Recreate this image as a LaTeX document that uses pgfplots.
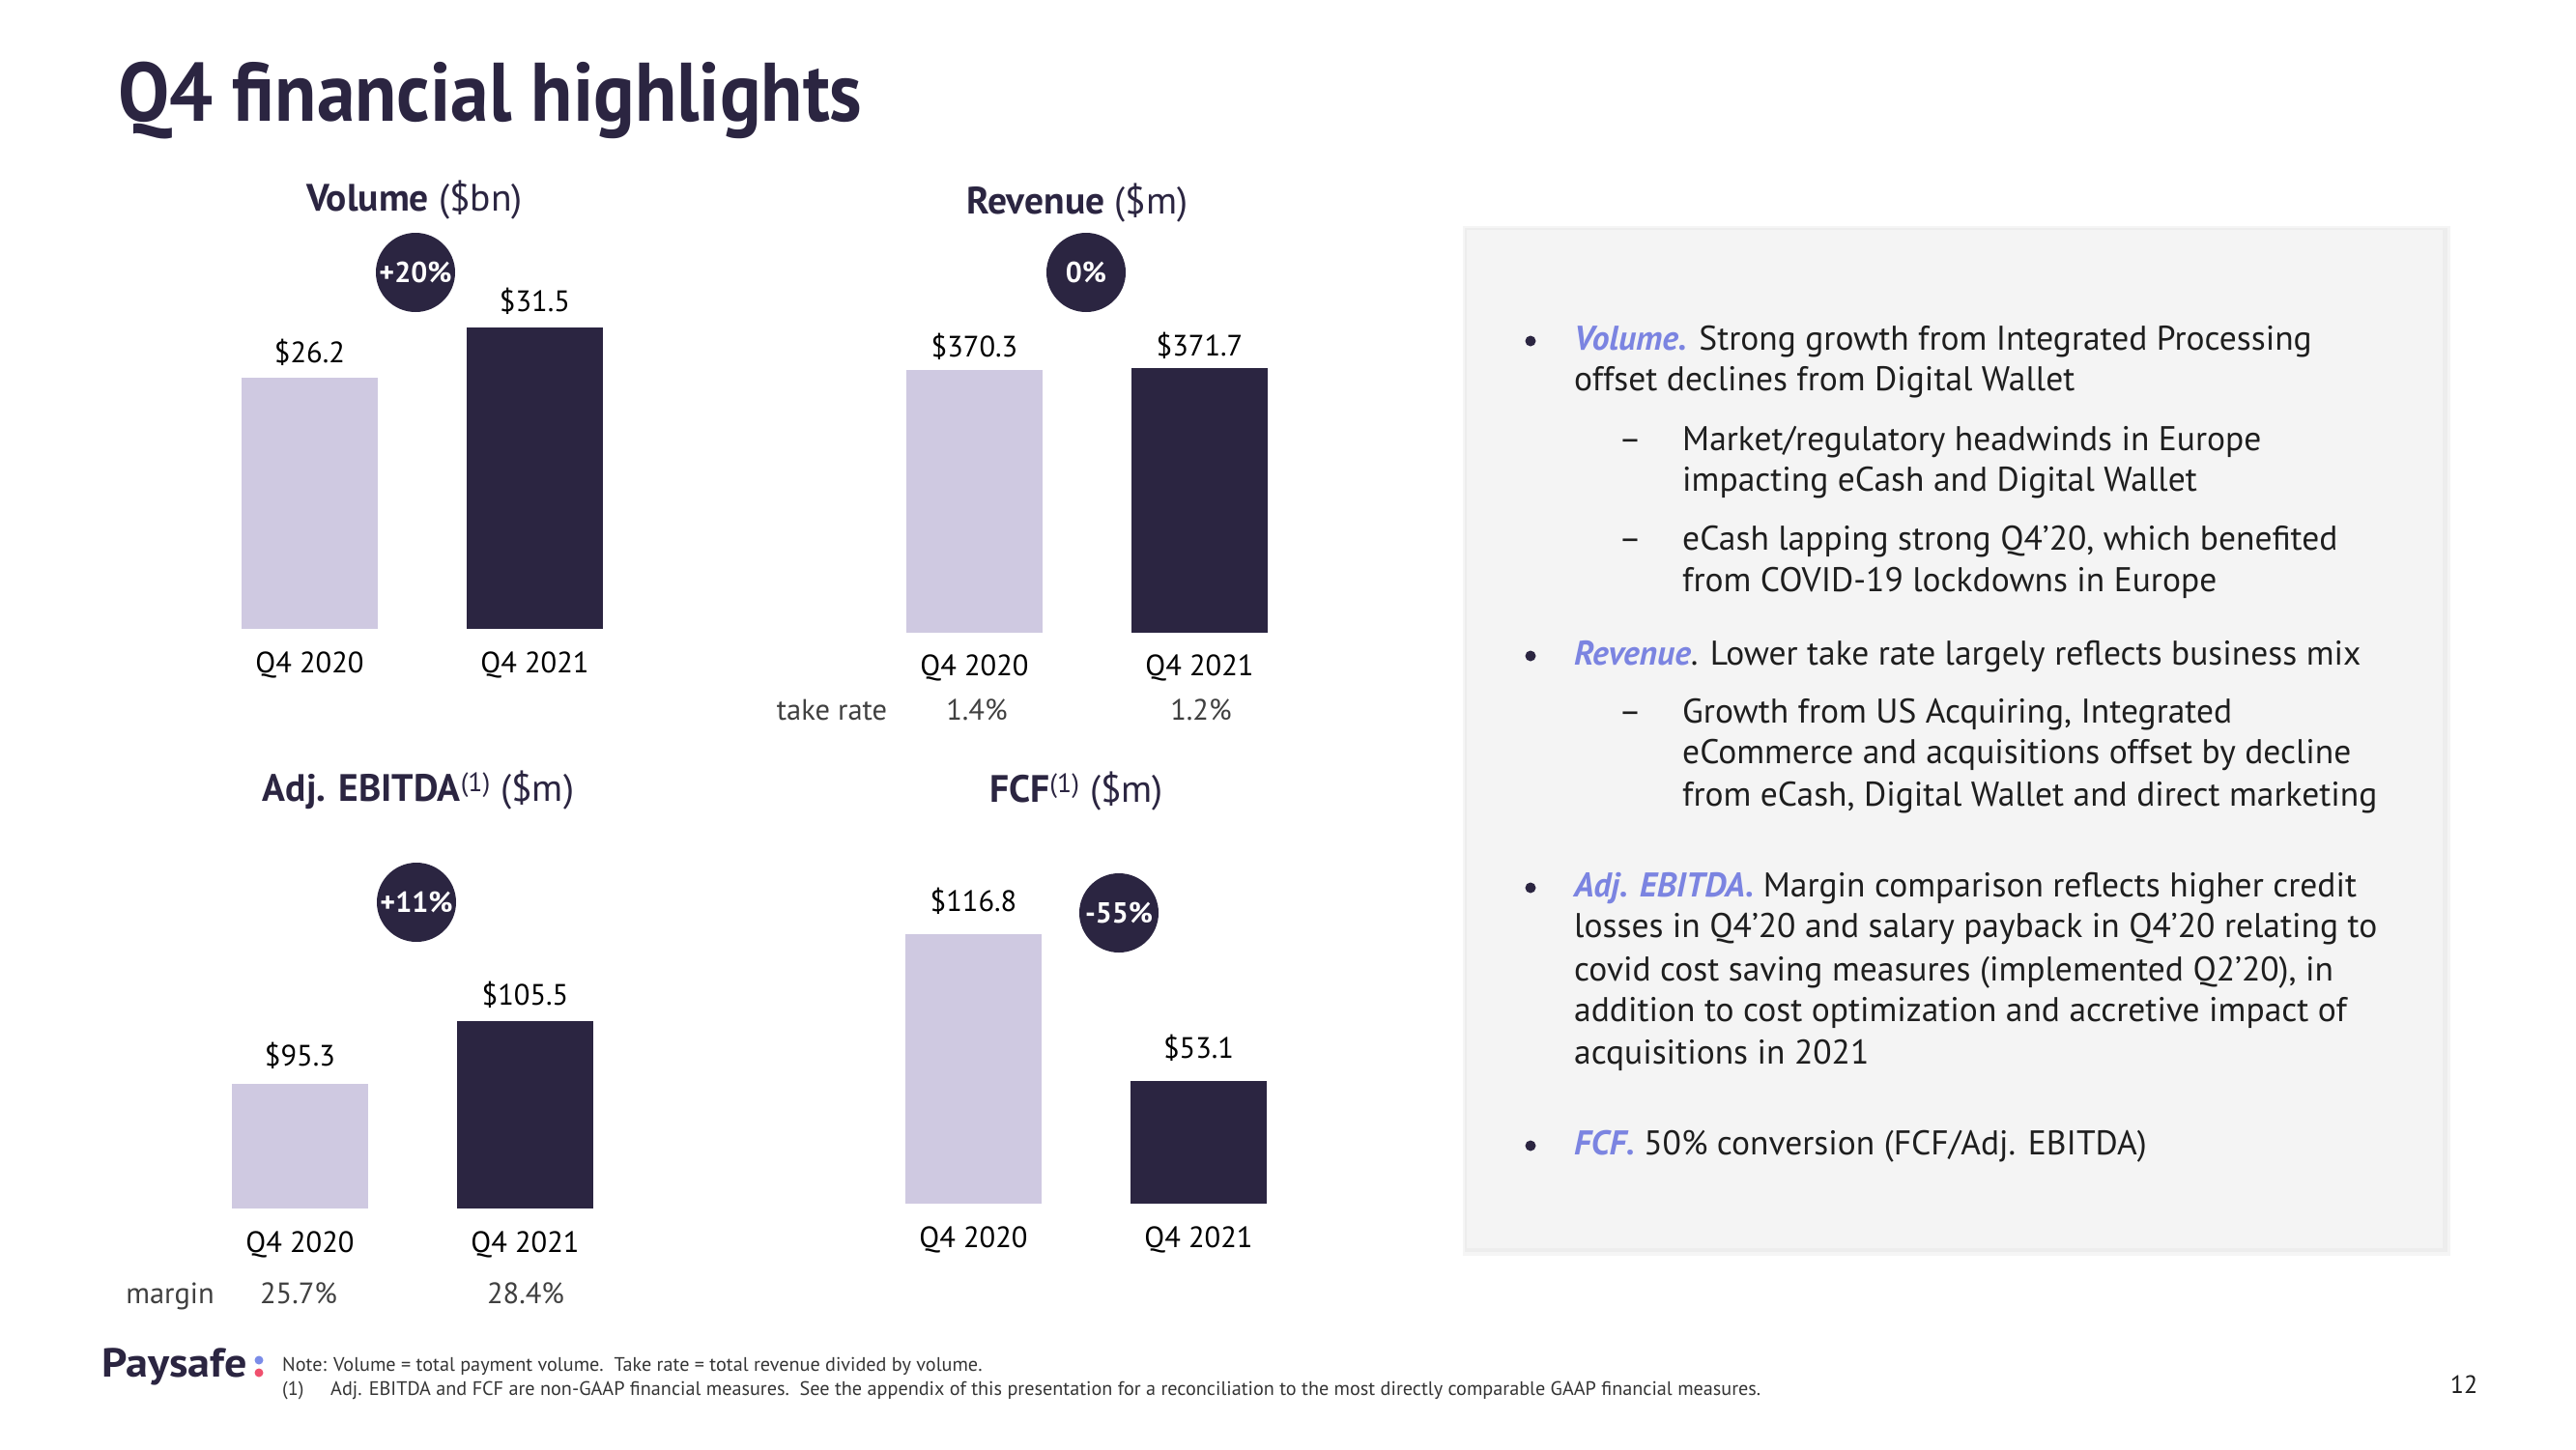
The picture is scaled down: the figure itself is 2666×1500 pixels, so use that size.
\documentclass[border=0pt]{standalone}
\usepackage{fontspec}
\setmainfont{PT Sans}
\usepackage{pgfplots}
\pgfplotsset{compat=1.18}
\definecolor{navy}{HTML}{2B2541}
\definecolor{lav}{HTML}{CFC9E1}
\definecolor{accent}{HTML}{7B84E1}
\definecolor{panel}{HTML}{F4F4F4}
\definecolor{txt}{HTML}{1E1E1E}
\definecolor{pinkdot}{HTML}{F0506E}
\definecolor{bluedot}{HTML}{7B8CE8}
\newcommand\bodyfont{\fontsize{35.5}{42}\selectfont}
\newcommand\lblfont{\fontsize{30.5}{36}\selectfont}
\newcommand\ttlfont{\fontsize{39.5}{44}\selectfont}
\newcommand{\T}[3]{\node[anchor=base west, inner sep=0pt, text=txt, font=\bodyfont] at (#1pt,-#2pt) {#3};}
\newcommand{\B}[1]{\fill[navy] (1584pt,-#1pt+9pt) circle (5.5pt);}
\newcommand{\D}[1]{\node[anchor=base, inner sep=0pt, text=txt, font=\bodyfont] at (1687pt,-#1pt) {--};}
\newcommand{\A}[1]{{\color{accent}\bfseries\itshape #1}}
\pgfplotsset{
  barax/.style={
    scale only axis, width=466pt,
    xmin=-0.5, xmax=1.5,
    axis line style={draw=none}, ytick=\empty,
    xtick={0,1}, xticklabels={Q4 2020,Q4 2021},
    major tick length=0pt,
    xticklabel style={font=\lblfont, text=black, anchor=base, inner sep=0pt, yshift=-45pt},
    ybar, bar width=141pt,
    /pgf/number format/assume math mode=true,
    nodes near coords={\$\pgfmathprintnumber[fixed,fixed zerofill,precision=1]{\pgfplotspointmeta}},
    every node near coord/.append style={font=\lblfont, text=black, anchor=base, inner sep=0pt},
    anchor=south west,
  },
  lbar/.style={fill=lav, draw=none, bar shift=0pt, every node near coord/.append style={yshift=#1}},
  dbar/.style={fill=navy, draw=none, bar shift=0pt, every node near coord/.append style={yshift=#1}},
}
\begin{document}
\begin{tikzpicture}
\path[fill=white] (0pt,0pt) rectangle (2666pt,-1500pt);
% title
\node[anchor=base west, inner sep=0pt, text=navy, font=\fontsize{86}{96}\selectfont\bfseries] at (122pt,-125pt) {\scalebox{0.925}[1]{Q4 financial highlights}};

% ---------- Volume ----------
\begin{axis}[barax, at={(204pt,-651pt)}, ymin=0, ymax=40, height=396.8pt]
\addplot[lbar=16pt] coordinates {(0,26.2)};
\addplot[dbar=16pt] coordinates {(1,31.5)};
\end{axis}
\node[anchor=base, inner sep=0pt, text=navy, font=\ttlfont] at (429pt,-218pt) {\textbf{Volume} (\$bn)};
\node[circle, fill=navy, minimum size=82pt, inner sep=0pt, text=white, font=\bfseries\fontsize{30}{32}\selectfont] at (430pt,-282pt) {+20\%};

% ---------- Revenue ----------
\begin{axis}[barax, at={(892pt,-654.5pt)}, ymin=0, ymax=500, height=367.25pt]
\addplot[lbar=13pt] coordinates {(0,370.3)};
\addplot[dbar=13pt] coordinates {(1,371.7)};
\end{axis}
\node[anchor=base, inner sep=0pt, text=navy, font=\ttlfont] at (1115pt,-221pt) {\textbf{Revenue} (\$m)};
\node[circle, fill=navy, minimum size=82pt, inner sep=0pt, text=white, font=\bfseries\fontsize{30}{32}\selectfont] at (1124pt,-282pt) {0\%};
\node[anchor=base, inner sep=0pt, text=txt!85, font=\lblfont] at (861pt,-745pt) {take rate};
\node[anchor=base, inner sep=0pt, text=txt!85, font=\lblfont] at (1011pt,-745pt) {1.4\%};
\node[anchor=base, inner sep=0pt, text=txt!85, font=\lblfont] at (1243pt,-745pt) {1.2\%};

% ---------- Adj. EBITDA ----------
\begin{axis}[barax, at={(194pt,-1251pt)}, ymin=75, ymax=125, height=318.5pt]
\addplot[lbar=18pt] coordinates {(0,95.3)};
\addplot[dbar=16pt] coordinates {(1,105.5)};
\end{axis}
\node[anchor=base, inner sep=0pt, text=navy, font=\ttlfont] at (433pt,-829pt) {\textbf{Adj. EBITDA}\textsuperscript{(1)} (\$m)};
\node[circle, fill=navy, minimum size=82pt, inner sep=0pt, text=white, font=\bfseries\fontsize{30}{32}\selectfont] at (431pt,-934pt) {+11\%};
\node[anchor=base, inner sep=0pt, text=txt!85, font=\lblfont] at (176pt,-1349pt) {margin};
\node[anchor=base, inner sep=0pt, text=txt!85, font=\lblfont] at (309pt,-1349pt) {25.7\%};
\node[anchor=base, inner sep=0pt, text=txt!85, font=\lblfont] at (544pt,-1349pt) {28.4\%};

% ---------- FCF ----------
\begin{axis}[barax, at={(891pt,-1246pt)}, ymin=0, ymax=150, height=357.75pt]
\addplot[lbar=24pt] coordinates {(0,116.8)};
\addplot[dbar=24pt] coordinates {(1,53.1)};
\end{axis}
\node[anchor=base, inner sep=0pt, text=navy, font=\ttlfont] at (1114pt,-830pt) {\textbf{FCF}\textsuperscript{(1)} (\$m)};
\node[circle, fill=navy, minimum size=82pt, inner sep=0pt, text=white, font=\bfseries\fontsize{30}{32}\selectfont] at (1158pt,-945pt) {-55\%};

% ---------- panel ----------
\fill[black!4] (1514pt,-234pt) rectangle (2536pt,-1300pt);
\fill[black!7] (1516pt,-236pt) rectangle (2533pt,-1296pt);
\fill[panel] (1518pt,-238pt) rectangle (2528pt,-1292pt);

\B{362}\T{1629}{362}{\A{Volume.} Strong growth from Integrated Processing}
\T{1629}{404}{offset declines from Digital Wallet}
\D{466}\T{1741}{466}{Market/regulatory headwinds in Europe}
\T{1741}{508}{impacting eCash and Digital Wallet}
\D{569}\T{1741}{569}{eCash lapping strong Q4'20, which benefited}
\T{1741}{612}{from COVID-19 lockdowns in Europe}
\B{688}\T{1629}{688}{\A{Revenue}. Lower take rate largely reflects business mix}
\D{748}\T{1741}{748}{Growth from US Acquiring, Integrated}
\T{1741}{790}{eCommerce and acquisitions offset by decline}
\T{1741}{834}{from eCash, Digital Wallet and direct marketing}
\B{928}\T{1629}{928}{\A{Adj. EBITDA.} Margin comparison reflects higher credit}
\T{1629}{970}{losses in Q4'20 and salary payback in Q4'20 relating to}
\T{1629}{1015}{covid cost saving measures (implemented Q2'20), in}
\T{1629}{1057}{addition to cost optimization and accretive impact of}
\T{1629}{1101}{acquisitions in 2021}
\B{1195}\T{1629}{1195}{\A{FCF.} 50\% conversion (FCF/Adj. EBITDA)}

% ---------- footer ----------
\node[anchor=base west, inner sep=0pt, text=navy, font=\fontsize{42}{44}\selectfont\bfseries] at (105pt,-1425pt) {\scalebox{1.1}[1]{Paysafe}};
\fill[bluedot] (268pt,-1408pt) circle (4.5pt);
\fill[pinkdot] (268pt,-1421pt) circle (4.5pt);
\node[anchor=base west, inner sep=0pt, text=txt!90, font=\fontsize{20.2}{22}\selectfont] at (292pt,-1419pt) {Note: Volume = total payment volume.\ \ Take rate = total revenue divided by volume.};
\node[anchor=base west, inner sep=0pt, text=txt!90, font=\fontsize{20.2}{22}\selectfont] at (292pt,-1444pt) {(1)};
\node[anchor=base west, inner sep=0pt, text=txt!90, font=\fontsize{20.2}{22}\selectfont] at (342pt,-1444pt) {Adj. EBITDA and FCF are non-GAAP financial measures.\ \ See the appendix of this presentation for a reconciliation to the most directly comparable GAAP financial measures.};
\node[anchor=base, inner sep=0pt, text=txt, font=\fontsize{26}{28}\selectfont] at (2550pt,-1442pt) {12};
\end{tikzpicture}
\end{document}
